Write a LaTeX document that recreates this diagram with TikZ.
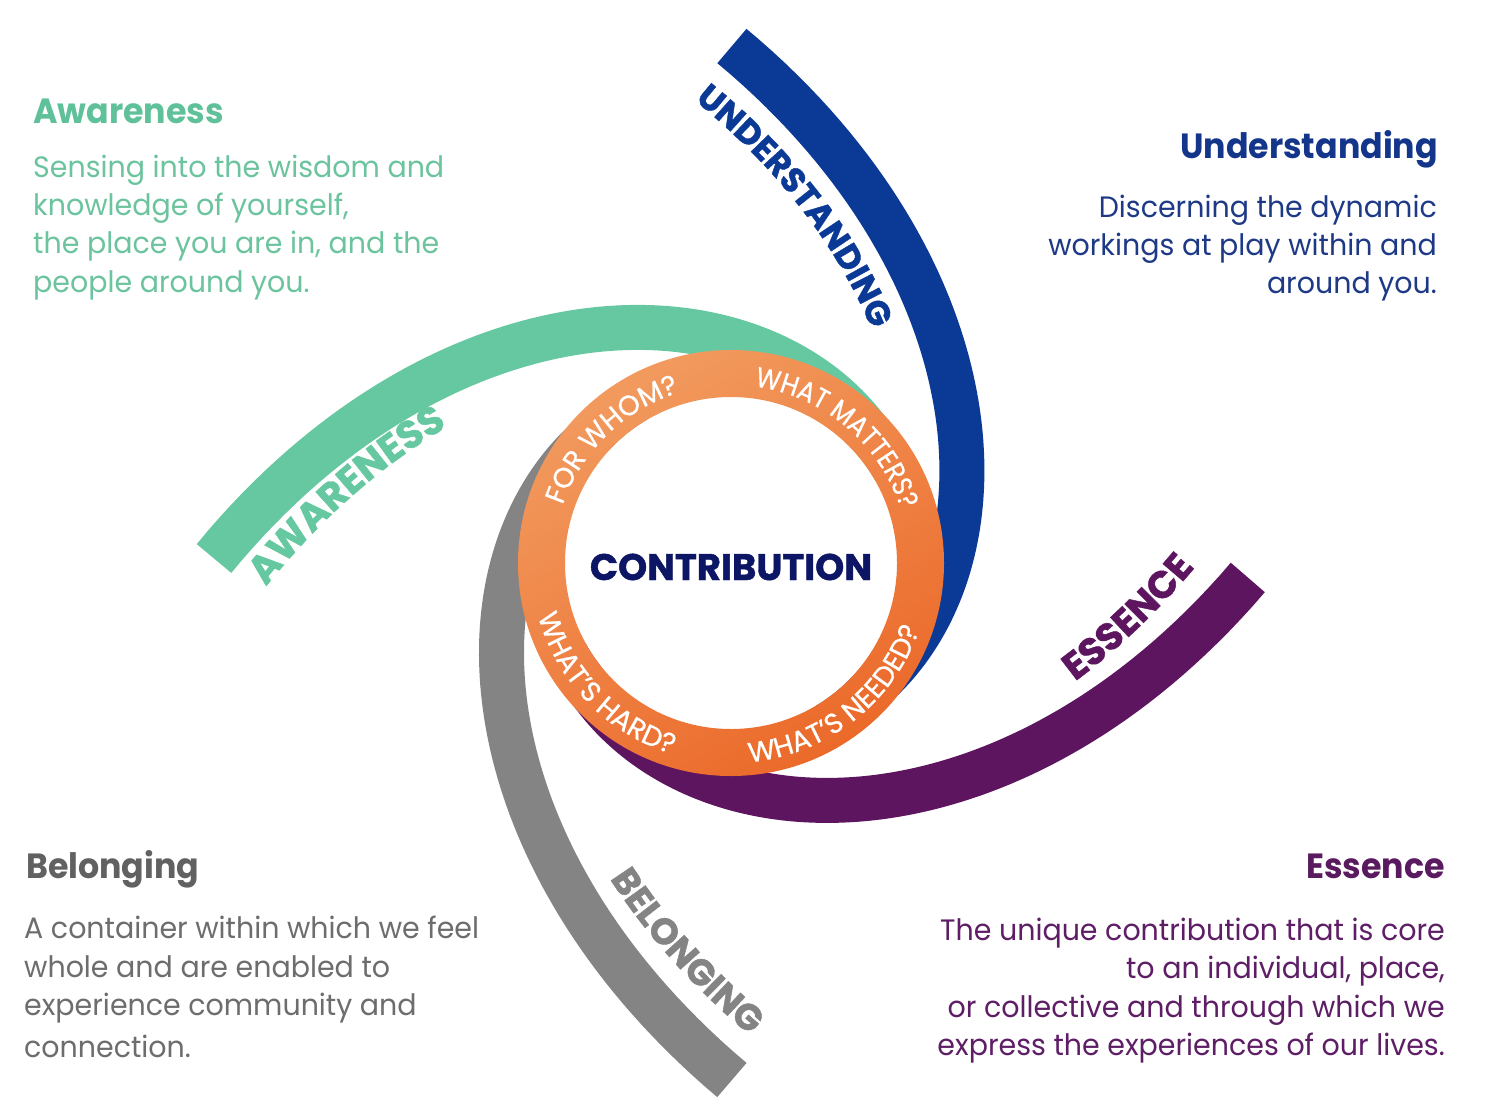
\documentclass[tikz,border=0pt]{standalone}
\usepackage{fontspec}
\usetikzlibrary{decorations.text}
\setmainfont{Poppins}[FakeStretch=0.965]
\newfontfamily\ringf{Poppins}[FakeBold=0.6]
\newfontfamily\ringn{Poppins}[FakeBold=0.6, FakeStretch=0.9]
\newfontfamily\armf{Poppins}[BoldFeatures={FakeBold=1.2}]
\newfontfamily\headf{Poppins}[FakeStretch=0.95]
\definecolor{agreen}{HTML}{66C8A0}
\definecolor{tgreen}{HTML}{6CC49E}
\definecolor{hgreen}{HTML}{5FC199}
\definecolor{ablue}{HTML}{0B3A96}
\definecolor{hblue}{HTML}{13358A}
\definecolor{tblue}{HTML}{1E3A87}
\definecolor{apurple}{HTML}{5E1560}
\definecolor{hpurple}{HTML}{5A1A5F}
\definecolor{tpurple}{HTML}{5E1E66}
\definecolor{agray}{HTML}{848484}
\definecolor{hgray}{HTML}{616161}
\definecolor{tgray}{HTML}{6D6D6D}
\definecolor{orL}{HTML}{F29A5E}
\definecolor{orD}{HTML}{EB6A2A}
\definecolor{navy}{HTML}{0D1664}
\tikzset{
  arm/.style={line width=45pt, line join=round},
  head/.style={inner sep=0pt, font=\headf\bfseries\fontsize{35}{35}\selectfont},
  body/.style={inner sep=0pt, font=\fontsize{29.5}{35}\selectfont},
}
\begin{document}
\begin{tikzpicture}[x=1pt,y=-1pt]
\useasboundingbox (0,0) rectangle (1489,1112);
\fill[white] (0,0) rectangle (1489,1112);
\coordinate (C) at (731,563);
\begin{scope}[shift={(731,563)}]
  % arms
  \draw[arm, draw=agreen] plot[domain=0:150, samples=100, variable=\t] ({180.5+\t}:{170+347*exp(-0.021*\t)});
  \draw[arm, draw=ablue] plot[domain=0:150, samples=100, variable=\t] ({270.1+\t}:{168+349*exp(-0.0215*\t)});
  \draw[arm, draw=apurple] plot[domain=0:150, samples=100, variable=\t] ({361.6+\t}:{170+347*exp(-0.021*\t)});
  \draw[arm, draw=agray] plot[domain=0:150, samples=100, variable=\t] ({449.9+\t}:{170+347*exp(-0.022*\t)});
  % arm labels
  \path[decorate, decoration={text along path, text={|\armf\bfseries\fontsize{34}{34}\selectfont\color{ablue}|UNDERSTANDING}}]
    plot[domain=0:70, samples=60, variable=\t] ({265.5+\t}:{170+347*exp(-0.021*(\t-4.6))-(88-0.27*\t)});
  \path[decorate, decoration={text along path, text={|\armf\bfseries\fontsize{39}{39}\selectfont\color{agreen}|AWARENESS}}]
    plot[domain=0:60, samples=60, variable=\t] ({177.1+\t}:{170+347*exp(-0.021*(\t-3.4))-(77-0.6*\t)});
  \path[decorate, decoration={text along path, text={|\armf\bfseries\fontsize{38}{38}\selectfont\color{apurple}|ESSENCE}}]
    plot[domain=0:40, samples=60, variable=\t] ({19-\t}:{170+347*exp(-0.021*(17.4-\t))-(47+0.75*\t)});
  \path[decorate, decoration={text along path, text={|\armf\bfseries\fontsize{36.5}{36.5}\selectfont\color{agray}|BELONGING}}]
    plot[domain=0:40, samples=60, variable=\t] ({111-\t}:{170+347*exp(-0.022*(21.1-\t))-(50+0.5*\t)});
  % ring
  \fill[white] (0,0) circle[radius=166];
  \shade[even odd rule, top color=orL, bottom color=orD, shading angle=30] (0,0) circle[radius=213] (0,0) circle[radius=166];
  % ring labels
  \path[decorate, decoration={text along path, text align=center, text={|\ringf\fontsize{28}{28}\selectfont\color{white}|FOR WHOM?}}]
    (166:178) arc[start angle=166, end angle=286, radius=178];
  \path[decorate, decoration={text along path, text align=center, text={|\ringn\fontsize{28}{28}\selectfont\color{white}|WHAT MATTERS?}}]
    (250:178) arc[start angle=250, end angle=370, radius=178];
  \path[decorate, decoration={text along path, text align=center, text={|\ringf\fontsize{28}{28}\selectfont\color{white}|WHAT’S HARD?}}]
    (196:200) arc[start angle=196, end angle=76, radius=200];
  \path[decorate, decoration={text along path, text align=center, text={|\ringf\fontsize{28}{28}\selectfont\color{white}|WHAT’S NEEDED?}}]
    (112:200) arc[start angle=112, end angle=-8, radius=200];
\end{scope}
\node[inner sep=0pt, anchor=base, text=navy, font=\armf\bfseries\fontsize{37}{37}\selectfont] (contrib) at (731,580) {CONTRIBUTION};
% Awareness
\node[head, text=hgreen, anchor=base west] (awH) at (33,123) {Awareness};
\node[body, text=tgreen, anchor=base west] (aw1) at (33,177) {Sensing into the wisdom and};
\node[body, text=tgreen, anchor=base west] (aw2) at (33,215) {knowledge of yourself,};
\node[body, text=tgreen, anchor=base west] (aw3) at (33,253) {the place you are in, and the};
\node[body, text=tgreen, anchor=base west] (aw4) at (33,292) {people around you.};
% Understanding
\node[head, text=hblue, anchor=base east] (unH) at (1438,158) {Understanding};
\node[body, text=tblue, anchor=base east] (un1) at (1437,217) {Discerning the dynamic};
\node[body, text=tblue, anchor=base east] (un2) at (1437,255) {workings at play within and};
\node[body, text=tblue, anchor=base east] (un3) at (1437,293) {around you.};
% Belonging
\node[head, text=hgray, anchor=base west] (beH) at (26,878) {Belonging};
\node[body, text=tgray, anchor=base west] (be1) at (24,938) {A container within which we feel};
\node[body, text=tgray, anchor=base west] (be2) at (24,977) {whole and are enabled to};
\node[body, text=tgray, anchor=base west] (be3) at (24,1015) {experience community and};
\node[body, text=tgray, anchor=base west] (be4) at (24,1057) {connection.};
% Essence
\node[head, text=hpurple, anchor=base east] (esH) at (1445,878) {Essence};
\node[body, text=tpurple, anchor=base east] (es1) at (1445,940) {The unique contribution that is core};
\node[body, text=tpurple, anchor=base east] (es2) at (1445,978) {to an individual, place,};
\node[body, text=tpurple, anchor=base east] (es3) at (1445,1017) {or collective and through which we};
\node[body, text=tpurple, anchor=base east] (es4) at (1445,1055) {express the experiences of our lives.};
\end{tikzpicture}
\end{document}
